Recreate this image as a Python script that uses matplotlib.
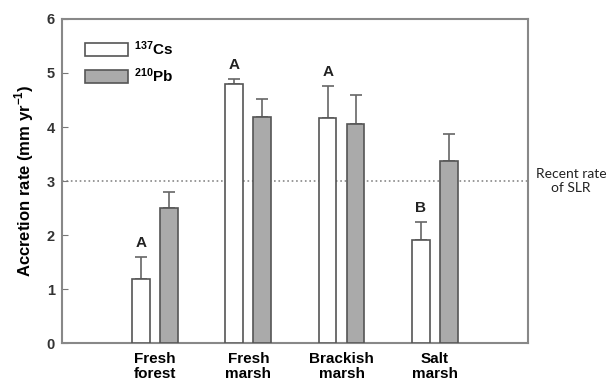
import numpy as np
import matplotlib
matplotlib.use("Agg")
import matplotlib.pyplot as plt
from matplotlib import rcParams

rcParams['font.family'] = 'Liberation Sans'
rcParams['mathtext.fontset'] = 'custom'
rcParams['mathtext.rm'] = 'Liberation Sans'
rcParams['mathtext.bf'] = 'Liberation Sans:bold'

sites = ['Fresh\nforest', 'Fresh\nmarsh', 'Brackish\nmarsh', 'Salt\nmarsh']
cs137 = [1.20, 4.80, 4.17, 1.91]
cs137_err = [0.40, 0.09, 0.59, 0.34]
pb210 = [2.50, 4.18, 4.06, 3.38]
pb210_err = [0.30, 0.34, 0.54, 0.50]
letters = ['A', 'A', 'A', 'B']
slr = 3.0

x = np.arange(len(sites))
w = 0.19
off = 0.15
edge = '#555555'
errc = '#666666'

fig = plt.figure(figsize=(6.12, 3.85), dpi=100)
ax = fig.add_axes([0.101, 0.108, 0.762, 0.843])

ax.bar(x - off, cs137, w, color='white', edgecolor=edge, linewidth=1.2,
       label='$\\mathbf{^{137}}$Cs', zorder=3)
ax.bar(x + off, pb210, w, color='#aaaaaa', edgecolor=edge, linewidth=1.2,
       label='$\\mathbf{^{210}}$Pb', zorder=3)
ax.errorbar(x - off, cs137, yerr=[np.zeros(4), cs137_err], fmt='none',
            ecolor=errc, elinewidth=1.2, capsize=4, capthick=1.2, zorder=2)
ax.errorbar(x + off, pb210, yerr=[np.zeros(4), pb210_err], fmt='none',
            ecolor=errc, elinewidth=1.2, capsize=4, capthick=1.2, zorder=2)

for xi, v, e, t in zip(x, cs137, cs137_err, letters):
    ax.text(xi - off, v + e + 0.12, t, ha='center', va='bottom',
            fontsize=11, fontweight='bold', color='#222222')

ax.axhline(slr, color='#888888', linestyle=':', linewidth=1.2, zorder=1)
ax.text(4.46, slr, 'Recent rate\nof SLR', ha='center', va='center',
        fontsize=10, family='Lato', color='#222222', clip_on=False,
        linespacing=1.2)

ax.set_xlim(-1, 4)
ax.set_ylim(0, 6)
ax.set_yticks(range(7))
ax.set_xticks(x)
ax.set_xticklabels(sites, fontsize=11, fontweight='bold', linespacing=1.15)
ax.tick_params(axis='x', length=0, pad=6)
ax.tick_params(axis='y', direction='in', length=4, color='#777777',
               labelsize=10.5, pad=5)
for lab in ax.get_yticklabels():
    lab.set_fontweight('bold')
    lab.set_color('#333333')
for s in ax.spines.values():
    s.set_color('#888888')
    s.set_linewidth(1.5)

ax.set_ylabel('Accretion rate (mm yr$^{\\mathbf{-1}}$)', fontsize=12,
              fontweight='bold', labelpad=8)

leg = ax.legend(loc='upper left', frameon=False,
                prop={'size': 11, 'weight': 'bold'},
                handlelength=2.8, handleheight=0.9, labelspacing=0.55,
                handletextpad=0.4, bbox_to_anchor=(0.02, 0.98))

fig.savefig('out.png', dpi=100)
